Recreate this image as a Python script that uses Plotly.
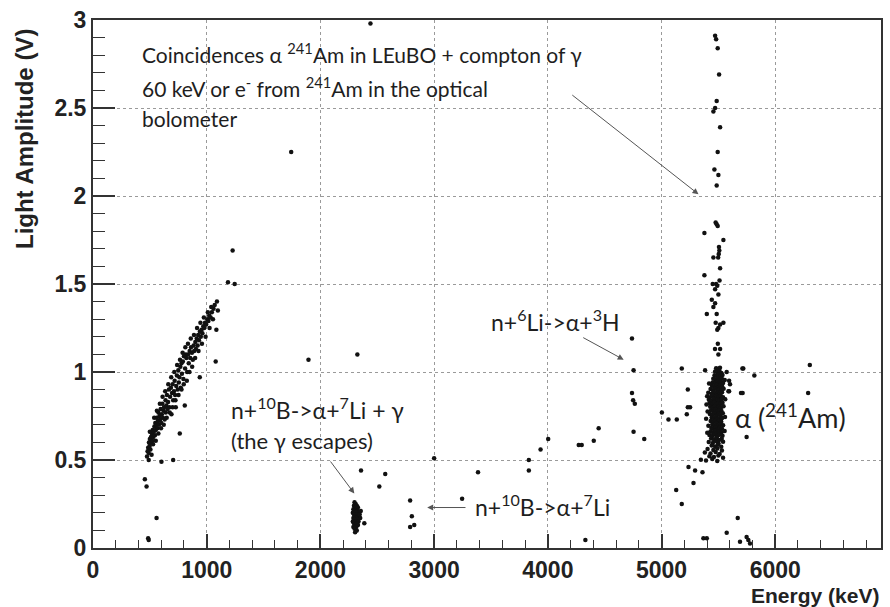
import plotly.graph_objects as go

# ---------------- data (Energy keV, Light amplitude V) ----------------
band_li6_gamma = [
    (475, 0.52), (480, 0.55), (485, 0.57), (490, 0.54), (492, 0.60), (498, 0.58), (500, 0.62),
    (505, 0.56), (510, 0.63), (512, 0.60), (518, 0.65), (520, 0.61), (525, 0.67), (530, 0.63),
    (535, 0.66), (540, 0.69), (545, 0.64), (548, 0.71), (552, 0.67), (558, 0.70), (560, 0.74),
    (565, 0.68), (570, 0.72), (575, 0.77), (580, 0.70), (585, 0.75), (590, 0.73), (595, 0.79),
    (600, 0.71), (605, 0.76), (610, 0.82), (615, 0.74), (620, 0.78), (625, 0.80), (630, 0.73),
    (638, 0.84), (640, 0.77), (645, 0.81), (650, 0.87), (655, 0.79), (660, 0.83), (668, 0.90),
    (672, 0.80), (678, 0.86), (685, 0.91), (690, 0.76), (695, 0.88), (700, 0.93), (705, 0.84),
    (712, 0.89), (718, 0.95), (722, 0.87), (728, 0.80), (732, 0.92), (738, 0.98), (745, 0.90),
    (750, 1.01), (755, 0.94), (760, 0.97), (763, 0.65), (768, 1.03), (772, 0.91), (778, 1.05),
    (782, 0.99), (790, 1.06), (795, 0.96), (800, 1.09), (807, 0.81), (810, 1.02), (815, 1.10),
    (821, 1.08), (828, 1.00), (836, 1.10), (842, 1.05), (850, 1.12), (855, 1.08), (862, 1.14),
    (870, 1.11), (878, 1.07), (885, 1.15), (890, 1.12), (900, 1.17), (905, 1.13), (912, 1.19),
    (920, 1.15), (925, 1.21), (932, 1.18), (939, 0.97), (940, 1.23), (948, 1.20), (955, 1.24),
    (962, 1.22), (970, 1.26), (978, 1.25), (985, 1.28), (995, 1.27), (1005, 1.30), (1015, 1.29),
    (1022, 1.32), (1035, 1.31), (1045, 1.34), (1060, 1.36), (1070, 1.38), (1079, 1.06),
    (1085, 1.24), (1090, 1.40), (1098, 1.35),
    (490, 0.50), (500, 0.66), (515, 0.53), (528, 0.59), (538, 0.74), (552, 0.61), (562, 0.78),
    (575, 0.65), (588, 0.82), (598, 0.68), (612, 0.86), (622, 0.70), (635, 0.89), (648, 0.74),
    (662, 0.93), (675, 0.77), (688, 0.97), (700, 0.80), (715, 1.00), (725, 0.84), (740, 1.04),
    (752, 0.87), (765, 1.07), (778, 0.90), (788, 1.11), (798, 0.93), (812, 1.14), (825, 0.95),
    (835, 1.16), (848, 1.00), (860, 1.19), (872, 1.03), (888, 1.21), (898, 1.08), (915, 1.25),
    (928, 1.12), (945, 1.28), (958, 1.16), (975, 1.31), (990, 1.20), (1010, 1.34), (1025, 1.25),
    (1040, 1.37), (1055, 1.30),
]
low_energy_misc = [
    (456, 0.39), (471, 0.35), (559, 0.17), (485, 0.055), (490, 0.045), (602, 0.49), (705, 0.50),
    (1187, 1.51), (1246, 1.50), (1228, 1.69), (1743, 2.25), (1895, 1.07),
]
cluster_b10_gamma = [
    (2300, 0.26), (2310, 0.25), (2295, 0.24), (2320, 0.24), (2305, 0.23), (2290, 0.22),
    (2315, 0.22), (2330, 0.23), (2300, 0.21), (2325, 0.21), (2285, 0.20), (2310, 0.20),
    (2340, 0.20), (2295, 0.19), (2320, 0.19), (2305, 0.18), (2330, 0.18), (2290, 0.17),
    (2315, 0.17), (2350, 0.17), (2300, 0.16), (2325, 0.16), (2285, 0.15), (2310, 0.15),
    (2335, 0.15), (2295, 0.14), (2320, 0.14), (2305, 0.13), (2330, 0.13), (2290, 0.12),
    (2315, 0.12), (2300, 0.11), (2320, 0.10), (2305, 0.09), (2345, 0.19), (2355, 0.21),
    (2386, 0.14),
]
mid_scatter = [
    (2325, 1.10), (2357, 0.44), (2518, 0.35), (2570, 0.42), (2440, 2.98), (2789, 0.27),
    (2804, 0.18), (2789, 0.12), (2825, 0.13), (3000, 0.51), (3246, 0.28), (3386, 0.43),
    (3833, 0.50), (3833, 0.44), (3936, 0.56), (4003, 0.62), (4272, 0.585), (4298, 0.585),
    (4404, 0.61), (4447, 0.68), (4330, 0.045), (4740, 1.19), (4754, 1.01), (4740, 0.88),
    (4750, 0.84), (4765, 0.82), (4754, 0.66), (4848, 0.62),
    (5003, 0.77), (5061, 0.73), (5134, 0.73), (5178, 1.02), (5231, 0.90), (5231, 0.80),
    (5251, 0.80), (5222, 0.76), (5237, 0.46), (5295, 0.44), (5360, 0.43), (5281, 0.37),
    (5129, 0.33), (5178, 0.25), (5368, 0.055), (5398, 0.055),
    (5573, 1.00), (5719, 1.02), (5816, 0.98), (5588, 0.89), (5602, 0.93), (5699, 0.88),
    (5713, 0.88), (5748, 0.63), (6289, 0.88), (6304, 1.04), (5670, 0.17), (5573, 0.086),
    (5690, 0.035), (5748, 0.063), (5763, 0.045), (5778, 0.026),
]
am241_column = [
    (5471, 2.91), (5480, 2.89), (5494, 2.84), (5506, 2.69), (5485, 2.54), (5471, 2.50),
    (5456, 2.48), (5515, 2.39), (5494, 2.25), (5465, 2.15), (5500, 2.12), (5485, 2.06),
    (5476, 1.85), (5485, 1.84), (5494, 1.83), (5377, 1.79), (5544, 1.75), (5505, 1.71),
    (5508, 1.69), (5503, 1.67), (5498, 1.65), (5456, 1.65), (5515, 1.59), (5377, 1.55),
    (5510, 1.52), (5450, 1.50), (5480, 1.50), (5490, 1.49), (5471, 1.47), (5500, 1.44),
    (5442, 1.41), (5471, 1.39), (5456, 1.37), (5398, 1.33), (5485, 1.33), (5476, 1.28),
    (5515, 1.27), (5500, 1.25), (5490, 1.24), (5544, 1.28), (5495, 1.16), (5470, 1.13),
    (5515, 1.13), (5500, 1.10), (5383, 1.01), (5594, 0.95), (5594, 0.89), (5711, 1.02),
]
am241_peak = [
    (5480, 1.021), (5501, 1.018), (5514, 1.024), (5471, 1.003), (5493, 0.998), (5509, 1.006),
    (5526, 0.995), (5466, 0.981), (5486, 0.977), (5499, 0.985), (5521, 0.979), (5536, 0.983),
    (5455, 0.962), (5477, 0.958), (5496, 0.966), (5511, 0.955), (5531, 0.962), (5449, 0.941),
    (5471, 0.937), (5489, 0.946), (5504, 0.934), (5523, 0.943), (5541, 0.938), (5444, 0.922),
    (5463, 0.917), (5481, 0.926), (5497, 0.914), (5516, 0.923), (5533, 0.918), (5431, 0.903),
    (5452, 0.897), (5470, 0.906), (5491, 0.894), (5507, 0.902), (5526, 0.898), (5546, 0.905),
    (5411, 0.882), (5441, 0.877), (5461, 0.886), (5478, 0.874), (5497, 0.883), (5513, 0.878),
    (5532, 0.885), (5401, 0.862), (5426, 0.857), (5447, 0.866), (5467, 0.854), (5486, 0.863),
    (5504, 0.858), (5521, 0.865), (5541, 0.856), (5416, 0.842), (5437, 0.837), (5457, 0.846),
    (5475, 0.834), (5493, 0.843), (5511, 0.838), (5529, 0.845), (5421, 0.822), (5444, 0.817),
    (5463, 0.826), (5481, 0.814), (5499, 0.823), (5517, 0.818), (5536, 0.825), (5428, 0.802),
    (5451, 0.797), (5469, 0.806), (5487, 0.794), (5505, 0.803), (5523, 0.798), (5545, 0.805),
    (5436, 0.782), (5455, 0.777), (5473, 0.786), (5490, 0.774), (5509, 0.783), (5527, 0.778),
    (5425, 0.762), (5449, 0.757), (5467, 0.766), (5485, 0.754), (5503, 0.763), (5521, 0.758),
    (5539, 0.765), (5441, 0.742), (5461, 0.737), (5479, 0.746), (5496, 0.734), (5515, 0.743),
    (5533, 0.738), (5432, 0.722), (5453, 0.717), (5471, 0.726), (5488, 0.714), (5507, 0.723),
    (5525, 0.718), (5446, 0.702), (5465, 0.697), (5484, 0.706), (5501, 0.694), (5519, 0.703),
    (5541, 0.698), (5438, 0.682), (5459, 0.677), (5477, 0.686), (5494, 0.674), (5513, 0.683),
    (5531, 0.678), (5430, 0.662), (5452, 0.657), (5471, 0.666), (5490, 0.654), (5509, 0.663),
    (5527, 0.658), (5421, 0.642), (5446, 0.637), (5468, 0.646), (5488, 0.634), (5511, 0.643),
    (5536, 0.638), (5436, 0.622), (5461, 0.617), (5482, 0.626), (5506, 0.614), (5529, 0.621),
    (5415, 0.602), (5451, 0.597), (5479, 0.606), (5501, 0.594), (5541, 0.603), (5441, 0.582),
    (5471, 0.577), (5496, 0.586), (5525, 0.575), (5405, 0.562), (5456, 0.557), (5491, 0.566),
    (5531, 0.554), (5381, 0.542), (5431, 0.537), (5476, 0.546), (5511, 0.534), (5421, 0.522),
    (5461, 0.517), (5500, 0.526), (5541, 0.513), (5346, 0.502), (5391, 0.497), (5446, 0.506),
    (5490, 0.494),
    (5395, 0.815), (5405, 0.775), (5392, 0.735), (5560, 0.845), (5558, 0.745), (5555, 0.665),
    (5412, 0.695), (5418, 0.935), (5556, 0.955), (5402, 0.655),
]

groups = [band_li6_gamma, low_energy_misc, cluster_b10_gamma, mid_scatter, am241_column, am241_peak]
energy = [p[0] for g in groups for p in g]
light = [p[1] for g in groups for p in g]

x_ticks = [0, 1000, 2000, 3000, 4000, 5000, 6000]
y_ticks = [0, 0.5, 1, 1.5, 2, 2.5, 3]
y_tick_text = ["0", "0.5", "1", "1.5", "2", "2.5", "3"]

# ---------------- figure ----------------
fig = go.Figure()
fig.add_trace(go.Scatter(
    x=energy, y=light, mode="markers",
    marker=dict(size=4.5, color="#111111", line=dict(width=0)),
    hoverinfo="x+y", showlegend=False,
))

tick_font = dict(family="Liberation Sans, Arial", size=23, color="#222", weight="bold")
fig.update_xaxes(
    range=[0, 6930], tickvals=x_ticks, ticktext=[str(v) for v in x_ticks],
    ticks="inside", ticklen=14, tickwidth=1.5, tickcolor="#333",
    minor=dict(ticks="inside", ticklen=8, dtick=200, tickcolor="#333", tickwidth=1),
    showgrid=True, gridcolor="#9a9a9a", griddash="dot", gridwidth=1,
    showline=True, linecolor="#333", linewidth=2, mirror=True,
    zeroline=False, tickfont=tick_font,
)
fig.update_yaxes(
    range=[0, 3], tickvals=y_ticks, ticktext=y_tick_text,
    ticks="inside", ticklen=22, tickwidth=1.5, tickcolor="#333",
    minor=dict(ticks="inside", ticklen=12, dtick=0.1, tickcolor="#333", tickwidth=1),
    showgrid=True, gridcolor="#9a9a9a", griddash="dot", gridwidth=1,
    showline=True, linecolor="#333", linewidth=2, mirror=True,
    zeroline=False, tickfont=tick_font,
)

txt_font = dict(family="Lato, Open Sans, sans-serif", size=21, color="#1e1e1e")
notes = [
    ("Coincidences α <sup>241</sup>Am in LEuBO + compton of γ", 412, 2.81, 21),
    ("60 keV or e<sup>-</sup> from <sup>241</sup>Am in the optical", 412, 2.62, 21),
    ("bolometer", 412, 2.44, 21),
    ("n+<sup>6</sup>Li->α+<sup>3</sup>H", 3482, 1.29, 23),
    ("n+<sup>10</sup>B->α+<sup>7</sup>Li + γ", 1193, 0.79, 23),
    ("(the γ escapes)", 1193, 0.61, 22),
    ("n+<sup>10</sup>B->α+<sup>7</sup>Li", 3342, 0.24, 23),
    ("α (<sup>241</sup>Am)", 5632, 0.75, 27),
]
for text, x, y, size in notes:
    fig.add_annotation(x=x, y=y, text=text, showarrow=False, xanchor="left", yanchor="middle",
                       font=dict(txt_font, size=size))

arrows = [
    (5325, 2.01, 4202, 2.58),
    (4667, 1.07, 4298, 1.20),
    (2298, 0.31, 2079, 0.50),
    (2939, 0.23, 3289, 0.23),
]
for hx, hy, tx, ty in arrows:
    fig.add_annotation(x=hx, y=hy, ax=tx, ay=ty, xref="x", yref="y", axref="x", ayref="y",
                       text="", showarrow=True, arrowhead=2, arrowsize=1.2, arrowwidth=1,
                       arrowcolor="#555")

fig.add_annotation(x=-0.086, y=0.775, xref="paper", yref="paper", text="Light Amplitude (V)",
                   textangle=-90, showarrow=False, xanchor="center", yanchor="middle",
                   font=dict(family="Liberation Sans, Arial", size=24, color="#222", weight="bold"))
fig.add_annotation(x=1.0, y=-0.0895, xref="paper", yref="paper", text="Energy (keV)",
                   showarrow=False, xanchor="right", yanchor="middle",
                   font=dict(family="Liberation Sans, Arial", size=21, color="#222", weight="bold"))

fig.update_layout(
    width=890, height=607,
    margin=dict(l=93, r=7, t=15, b=59),
    paper_bgcolor="white", plot_bgcolor="white",
    showlegend=False,
)

fig.write_html("out.html")
